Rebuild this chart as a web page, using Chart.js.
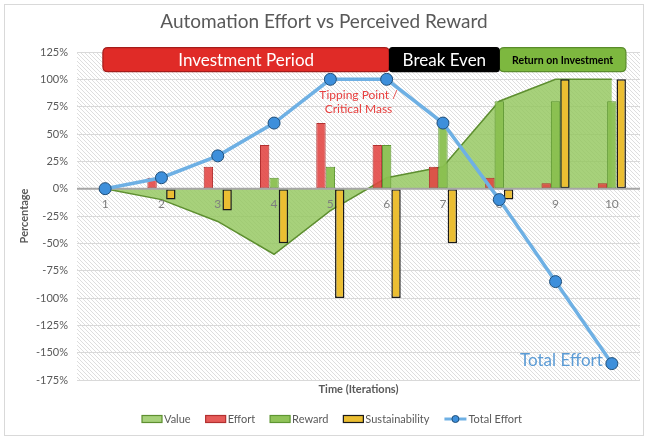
<!DOCTYPE html>
<html>
<head>
<meta charset="utf-8">
<script src="https://cdn.jsdelivr.net/npm/chart.js@4.4.0/dist/chart.umd.min.js"></script>
<style>
html,body{margin:0;padding:0;background:#fff;}
#wrap{width:647px;height:437px;position:relative;}
</style>
</head>
<body>
<div id="wrap"><canvas id="chart" width="647" height="437"></canvas></div>
<script>
// chart values
const categories = ['1','2','3','4','5','6','7','8','9','10'];
const valueData = [0,-10,-30,-60,-20,10,20,80,100,100];
const effortData = [0,10,20,40,60,40,20,10,5,5];
const rewardData = [0,0,0,10,20,40,60,80,80,80];
const sustainData = [0,-10,-20,-50,-100,-100,-50,-10,100,100];
const totalEffortData = [0,10,30,60,100,100,60,-10,-85,-160];
const phaseLabels = ['Investment Period','Break Even','Return on Investment'];
const yTicks = {min:-175, max:125, step:25};

const FONT = 'Lato, "Open Sans", sans-serif';
const GREY = '#595959';

function makeHatch(ctx){
	let c = document.createElement('canvas');
	c.width = 4; c.height = 4;
	let g = c.getContext('2d');
	g.strokeStyle = '#dedede';
	g.lineWidth = 1;
	g.beginPath();
	g.moveTo(0,0); g.lineTo(4,4);
	g.moveTo(-2,2); g.lineTo(2,6);
	g.moveTo(2,-2); g.lineTo(6,2);
	g.stroke();
	return ctx.createPattern(c,'repeat');
}

function roundRect(ctx,x,y,w,h,r){
	ctx.beginPath();
	ctx.moveTo(x+r,y);
	ctx.lineTo(x+w-r,y); ctx.quadraticCurveTo(x+w,y,x+w,y+r);
	ctx.lineTo(x+w,y+h-r); ctx.quadraticCurveTo(x+w,y+h,x+w-r,y+h);
	ctx.lineTo(x+r,y+h); ctx.quadraticCurveTo(x,y+h,x,y+h-r);
	ctx.lineTo(x,y+r); ctx.quadraticCurveTo(x,y,x+r,y);
	ctx.closePath();
}

const backdrop = {
	id:'backdrop',
	beforeDraw(chart){
		let ctx = chart.ctx, a = chart.chartArea;
		ctx.save();
		ctx.fillStyle = makeHatch(ctx);
		ctx.fillRect(a.left, a.top, a.right-a.left, a.bottom-a.top);
		ctx.restore();
	}
};

// category labels go over the area, under the bars; zero line under the Total Effort line
const xAxisLayer = {
	id:'xAxisLayer',
	afterDatasetDraw(chart,args){
		let ctx = chart.ctx, a = chart.chartArea;
		let xs = chart.scales.x, ys = chart.scales.y;
		let y0 = ys.getPixelForValue(0);
		ctx.save();
		if(args.index===0){
			ctx.fillStyle = '#7f7f7f';
			ctx.font = '12px '+FONT;
			ctx.textAlign = 'center';
			ctx.textBaseline = 'middle';
			categories.forEach((c,i)=>ctx.fillText(c, xs.getPixelForValue(i), y0+15));
		}
		if(args.index===1){
			ctx.strokeStyle = '#a6a6a6';
			ctx.lineWidth = 2;
			ctx.beginPath();
			ctx.moveTo(a.left,y0); ctx.lineTo(a.right,y0);
			ctx.stroke();
		}
		ctx.restore();
	}
};

const extras = {
	id:'extras',
	afterDraw(chart){
		let ctx = chart.ctx, a = chart.chartArea;
		let xs = chart.scales.x, ys = chart.scales.y;
		ctx.save();
		// outer frame
		ctx.strokeStyle = '#d9d9d9';
		ctx.lineWidth = 1;
		ctx.strokeRect(4.5,4.5,639,431);

		// title
		ctx.fillStyle = GREY;
		ctx.textAlign = 'center';
		ctx.textBaseline = 'middle';
		ctx.font = '19px '+FONT;
		ctx.fillText('Automation Effort vs Perceived Reward', 324, 22);

		// x title
		ctx.font = 'bold 11px '+FONT;
		ctx.fillText('Time (Iterations)', (a.left+a.right)/2, 389);

		// phase banners
		let starts = [-0.04, 5.05, 7.0];
		let ends = [5.05, 7.0, 9.25];
		let fills = ['#E02B27','#000000','#7DB83F'];
		let strokes = ['#A51C1A','#000000','#5A8C2B'];
		let txt = ['#ffffff','#ffffff','#000000'];
		let fonts = ['17px '+FONT,'17px '+FONT,'bold 10.5px '+FONT];
		let top = ys.getPixelForValue(129), bot = ys.getPixelForValue(107);
		// draw green and red first, black on top
		[0,2,1].forEach(i=>{
			let x1 = xs.getPixelForValue(starts[i]), x2 = xs.getPixelForValue(ends[i]);
			roundRect(ctx,x1,top,x2-x1,bot-top,i===1?3:5);
			ctx.fillStyle = fills[i];
			ctx.fill();
			ctx.strokeStyle = strokes[i];
			ctx.lineWidth = 1.2;
			ctx.stroke();
		});
		phaseLabels.forEach((t,i)=>{
			let x1 = xs.getPixelForValue(starts[i]), x2 = xs.getPixelForValue(ends[i]);
			ctx.fillStyle = txt[i];
			ctx.font = fonts[i];
			ctx.fillText(t,(x1+x2)/2,(top+bot)/2+1);
		});

		// tipping point note
		let tx = (xs.getPixelForValue(4)+xs.getPixelForValue(5))/2;
		ctx.fillStyle = '#E8403F';
		ctx.font = '12px '+FONT;
		ctx.fillText('Tipping Point /', tx, ys.getPixelForValue(86));
		ctx.fillText('Critical Mass', tx, ys.getPixelForValue(73));

		// total effort label
		let last = totalEffortData.length-1;
		ctx.fillStyle = '#5B9BD5';
		ctx.font = '17px '+FONT;
		ctx.textAlign = 'right';
		ctx.fillText('Total Effort', xs.getPixelForValue(last)-9, ys.getPixelForValue(totalEffortData[last])-3);

		// legend
		ctx.font = '11px '+FONT;
		ctx.textAlign = 'left';
		let ds = chart.data.datasets;
		let items = ds.map(d=>({d:d, w:(d.label==='Total Effort'?22:20)+2+ctx.measureText(d.label).width}));
		let gap = 15;
		let total = items.reduce((s,it)=>s+it.w,0)+gap*(items.length-1);
		let x = 332-total/2, y = 419;
		items.forEach(it=>{
			let d = it.d;
			if(d.label==='Total Effort'){
				ctx.strokeStyle = d.borderColor;
				ctx.lineWidth = 3;
				ctx.beginPath(); ctx.moveTo(x,y); ctx.lineTo(x+22,y); ctx.stroke();
				ctx.beginPath(); ctx.arc(x+11,y,3.5,0,Math.PI*2);
				ctx.fillStyle = d.pointBackgroundColor; ctx.fill();
				ctx.strokeStyle = d.pointBorderColor; ctx.lineWidth = 1; ctx.stroke();
				x += 24;
			} else {
				ctx.fillStyle = d.backgroundColor;
				ctx.fillRect(x,y-3.5,20,7);
				ctx.strokeStyle = d.borderColor;
				ctx.lineWidth = 1.2;
				ctx.strokeRect(x,y-3.5,20,7);
				x += 22;
			}
			ctx.fillStyle = GREY;
			ctx.fillText(d.label,x,y+0.5);
			x += ctx.measureText(d.label).width + gap;
		});
		ctx.restore();
	}
};

new Chart(document.getElementById('chart').getContext('2d'),{
	type:'bar',
	data:{
		labels:categories,
		datasets:[
			{type:'line',label:'Value',data:valueData,fill:'origin',backgroundColor:'rgba(145,197,90,0.8)',borderColor:'#5E8F30',borderWidth:1.5,pointRadius:0,tension:0,order:3},
			{type:'bar',label:'Effort',data:effortData,backgroundColor:'rgba(226,68,66,0.88)',borderColor:'#B23030',borderWidth:1,borderSkipped:false,categoryPercentage:0.5,barPercentage:1,order:2},
			{type:'bar',label:'Reward',data:rewardData,backgroundColor:'rgba(138,192,80,0.95)',borderColor:'#5E9632',borderWidth:1,borderSkipped:false,categoryPercentage:0.5,barPercentage:1,order:2},
			{type:'bar',label:'Sustainability',data:sustainData,backgroundColor:'#EBBE32',borderColor:'#1a1a1a',borderWidth:1.5,borderSkipped:false,categoryPercentage:0.5,barPercentage:1,order:2},
			{type:'line',label:'Total Effort',data:totalEffortData,borderColor:'#6EB0E4',borderWidth:3.5,pointRadius:6,pointBackgroundColor:'#3D8FDB',pointBorderColor:'#1F4E79',pointBorderWidth:1,tension:0,order:1}
		]
	},
	options:{
		responsive:false,
		animation:false,
		layout:{padding:{left:14,right:7,top:52,bottom:57}},
		plugins:{legend:{display:false},title:{display:false},tooltip:{enabled:false}},
		scales:{
			x:{
				display:false,
				offset:true
			},
			y:{
				min:yTicks.min,max:yTicks.max,
				ticks:{stepSize:yTicks.step,callback:v=>v+'%',color:GREY,font:{family:FONT,size:11},padding:9},
				grid:{color:'#d9d9d9',drawTicks:false},
				border:{display:false},
				title:{display:true,text:'Percentage',color:GREY,font:{family:FONT,size:11,weight:'bold'}},
				afterFit:s=>{s.width=63;}
			}
		}
	},
	plugins:[backdrop,xAxisLayer,extras]
});
</script>
</body>
</html>
